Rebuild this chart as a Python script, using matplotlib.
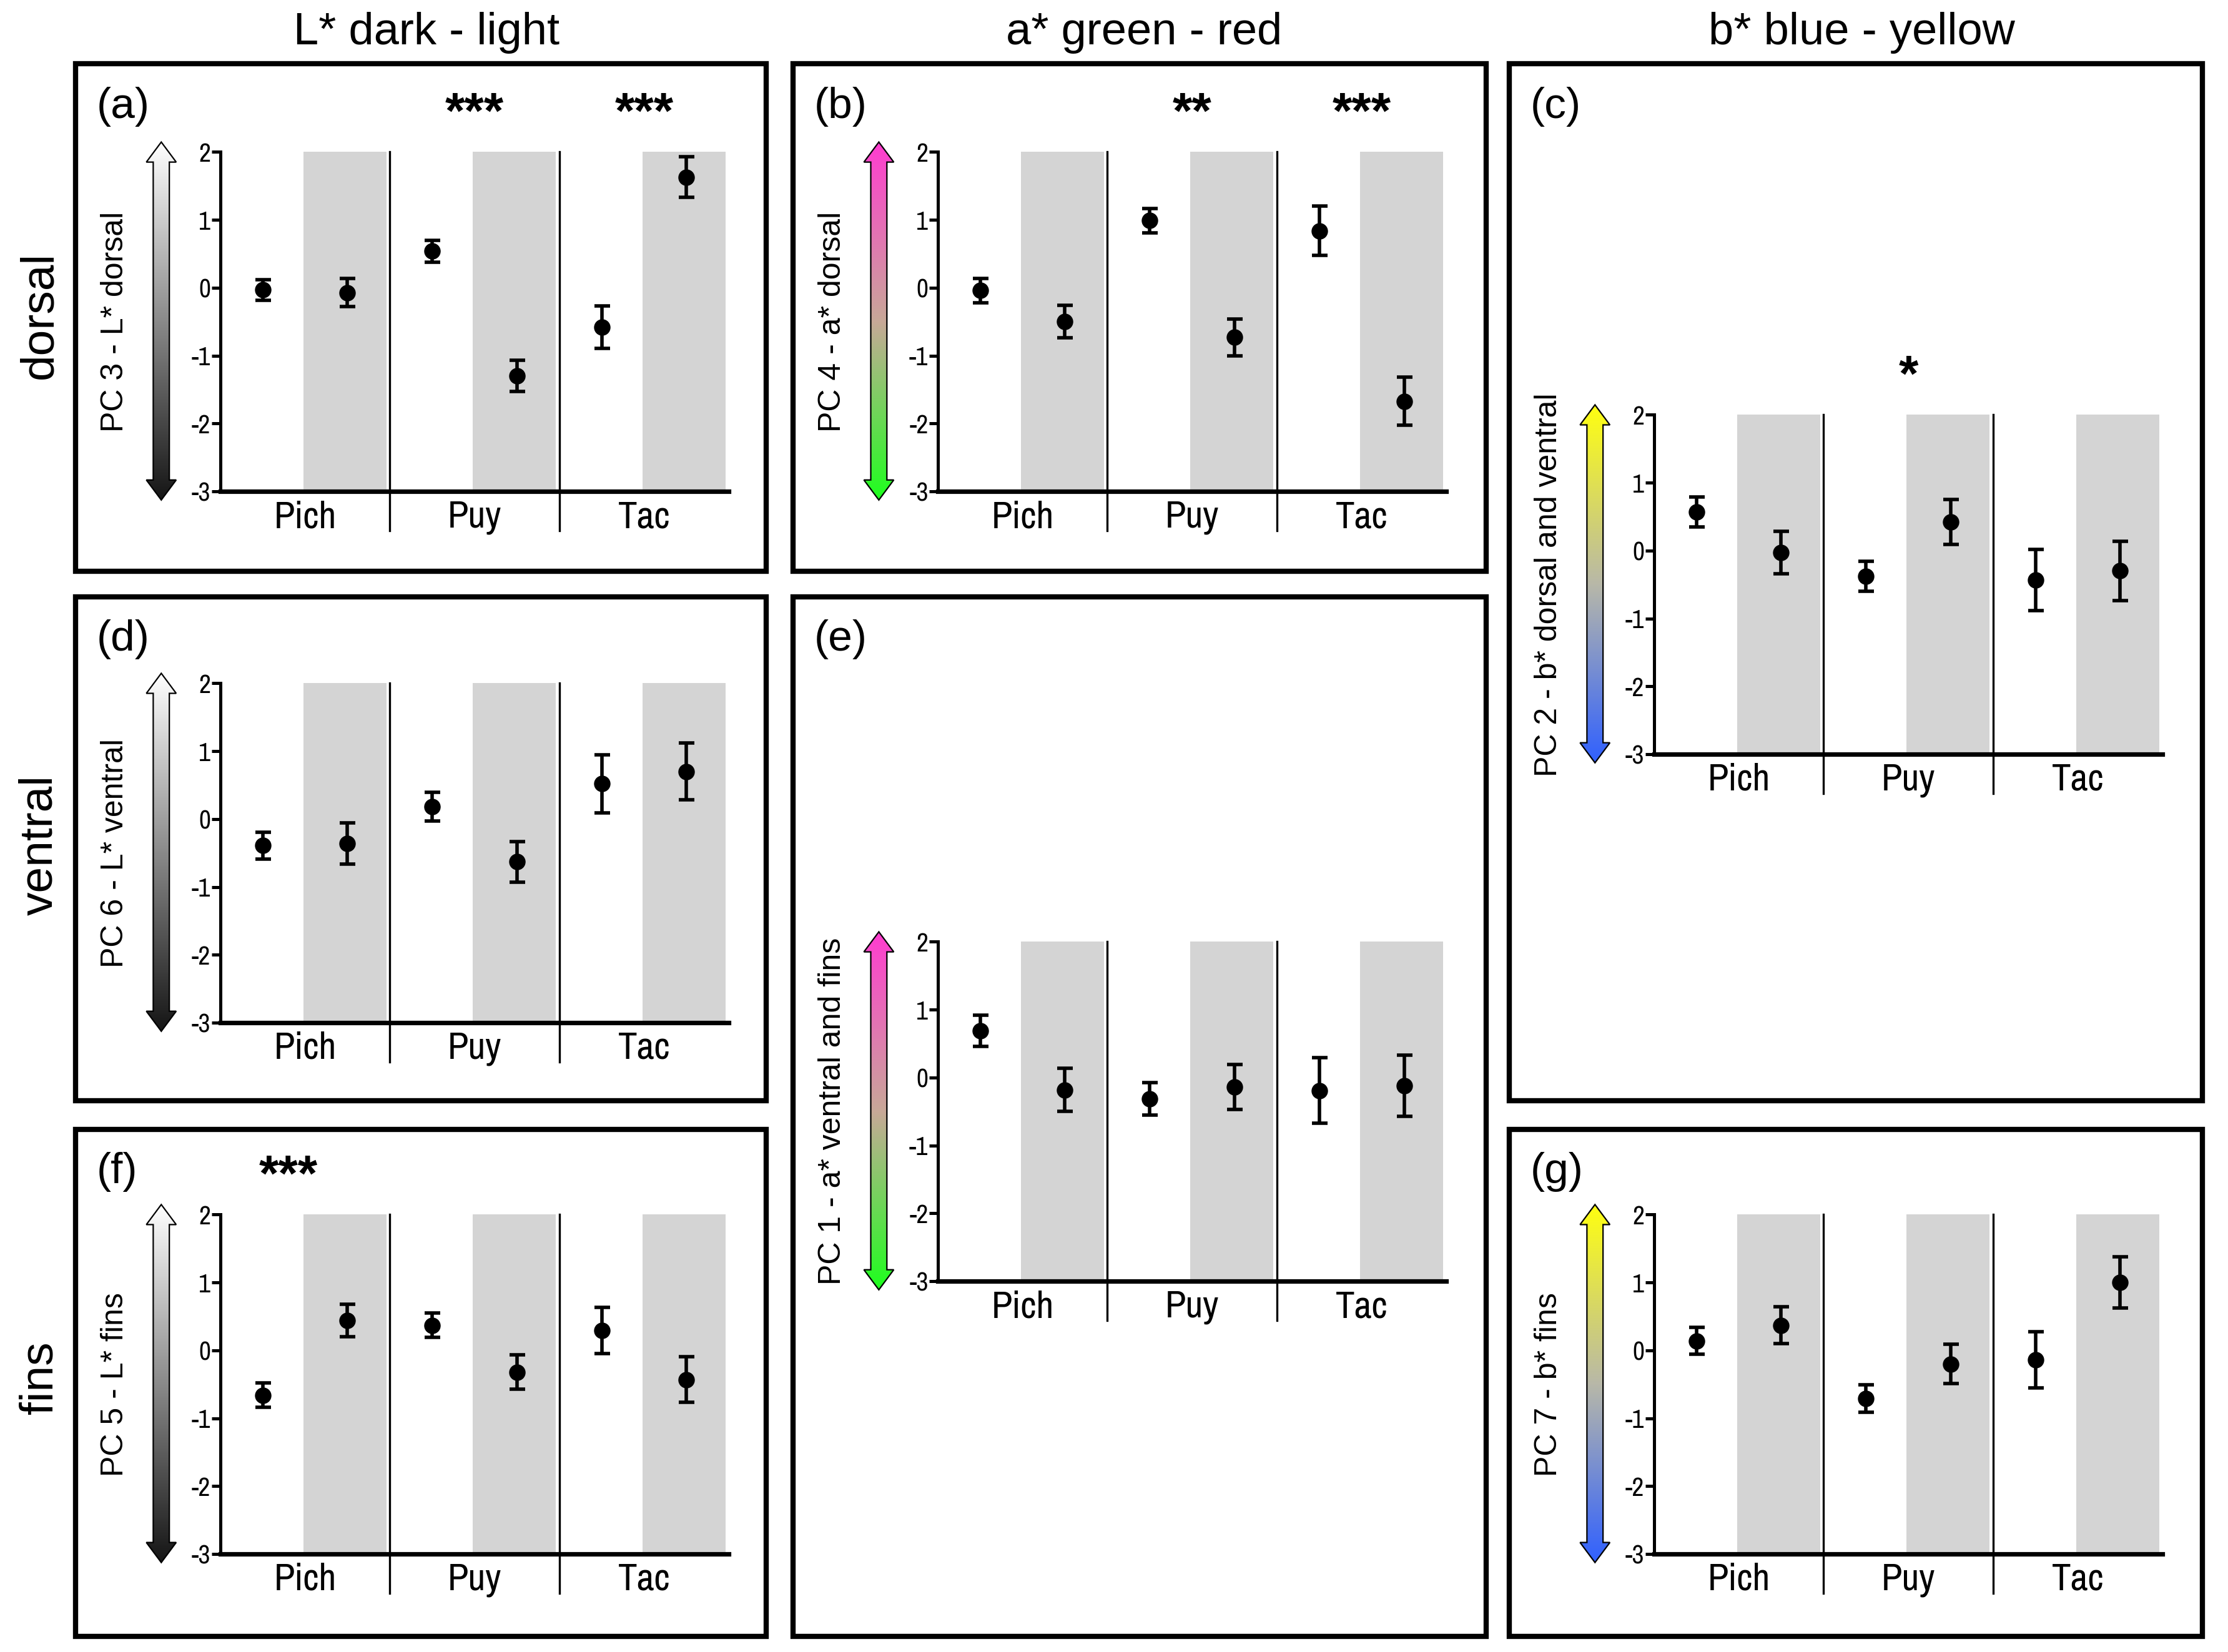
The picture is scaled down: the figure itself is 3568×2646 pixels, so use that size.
import numpy as np
import matplotlib
matplotlib.use('Agg')
import matplotlib.pyplot as plt
from matplotlib import font_manager
from matplotlib.patches import Polygon, Rectangle
from matplotlib.colors import LinearSegmentedColormap

plt.rcParams['font.family'] = ['Liberation Sans', 'DejaVu Sans']
installed = sorted({f.name for f in font_manager.fontManager.ttflist})
narrow_opts = [n for n in installed if 'Narrow' in n or 'Condensed' in n]
NARROW = narrow_opts[:1] + ['Liberation Sans', 'DejaVu Sans']

# ---- data ----
groups = ['Pich', 'Puy', 'Tac']
xpos = [0.25, 0.75, 1.25, 1.75, 2.25, 2.75]   # two treatments per site
yticks = [-3, -2, -1, 0, 1, 2]

a_mean = [-0.03, -0.07, 0.54, -1.30, -0.58, 1.63]
a_err = [0.15, 0.21, 0.16, 0.23, 0.31, 0.30]
b_mean = [-0.04, -0.50, 0.99, -0.73, 0.84, -1.67]
b_err = [0.18, 0.24, 0.18, 0.27, 0.36, 0.35]
c_mean = [0.57, -0.03, -0.38, 0.42, -0.43, -0.30]
c_err = [0.22, 0.31, 0.22, 0.33, 0.45, 0.44]
d_mean = [-0.39, -0.36, 0.18, -0.63, 0.52, 0.70]
d_err = [0.20, 0.30, 0.21, 0.30, 0.43, 0.42]
e_mean = [0.69, -0.18, -0.31, -0.14, -0.19, -0.12]
e_err = [0.23, 0.32, 0.24, 0.33, 0.48, 0.45]
f_mean = [-0.66, 0.44, 0.37, -0.32, 0.29, -0.43]
f_err = [0.18, 0.24, 0.18, 0.25, 0.34, 0.34]
g_mean = [0.14, 0.37, -0.71, -0.20, -0.14, 1.00]
g_err = [0.20, 0.27, 0.20, 0.29, 0.41, 0.38]

ylabels = {
    'a': 'PC 3 - L* dorsal', 'b': 'PC 4 - a* dorsal', 'c': 'PC 2 - b* dorsal and ventral',
    'd': 'PC 6 - L* ventral', 'e': 'PC 1 - a* ventral and fins', 'f': 'PC 5 - L* fins',
    'g': 'PC 7 - b* fins',
}
stars = {'a': [(1.5, '***'), (2.5, '***')], 'b': [(1.5, '**'), (2.5, '***')],
         'c': [(1.5, '*')], 'f': [(0.4, '***')]}

col_titles = ['L* dark - light', 'a* green - red', 'b* blue - yellow']
row_titles = ['dorsal', 'ventral', 'fins']

# arrow colour ramps, bottom -> top
ramp_L = ['#151515', '#ffffff']
ramp_a = ['#1eff1e', '#c8a898', '#ff3cd0']
ramp_b = ['#3060ff', '#b8b8a8', '#ffff10']

# ---- layout, in pixels of a 1568x1163 canvas ----
W, H = 1568, 1163

def fr(x0, y0, w, h):
    return [x0 / W, 1 - (y0 + h) / H, w / W, h / H]

# box left, box top, box width, box height, axes top offset
panels = {
    'a': (53, 45, 486, 357, 62, a_mean, a_err, ramp_L),
    'b': (558, 45, 488, 357, 62, b_mean, b_err, ramp_a),
    'c': (1062, 45, 488, 730, 247, c_mean, c_err, ramp_b),
    'd': (53, 420, 486, 355, 61, d_mean, d_err, ramp_L),
    'e': (558, 420, 488, 732, 243, e_mean, e_err, ramp_a),
    'f': (53, 795, 486, 357, 60, f_mean, f_err, ramp_L),
    'g': (1062, 795, 488, 357, 60, g_mean, g_err, ramp_b),
}
AX_W, AX_H = 358, 239

fig = plt.figure(figsize=(17.84, 13.23), dpi=200)


def draw_arrow(rect, colors):
    ax = fig.add_axes(rect)
    ax.set_xlim(0, 1)
    ax.set_ylim(0, 1)
    ax.axis('off')
    sw, hl = 0.27, 0.056
    pts = [(0.5, 1), (1, 1 - hl), (0.5 + sw, 1 - hl), (0.5 + sw, hl), (1, hl),
           (0.5, 0), (0, hl), (0.5 - sw, hl), (0.5 - sw, 1 - hl), (0, 1 - hl)]
    poly = Polygon(pts, closed=True, fc='none', ec='black', lw=0.8, clip_on=False, zorder=3)
    ax.add_patch(poly)
    cmap = LinearSegmentedColormap.from_list('ramp', colors)
    grad = np.linspace(0, 1, 256).reshape(-1, 1)
    im = ax.imshow(grad, extent=[0, 1, 0, 1], aspect='auto', cmap=cmap,
                   origin='lower', interpolation='bilinear')
    im.set_clip_path(poly)


for key, (bx, by, bw, bh, top, mean, err, ramp) in panels.items():
    # outer frame
    fig.add_artist(Rectangle((bx / W, 1 - (by + bh) / H), bw / W, bh / H,
                             transform=fig.transFigure, fill=False, lw=3, ec='black'))
    ax_left = bx + 102
    ax_top = by + top
    ax = fig.add_axes(fr(ax_left, ax_top, AX_W, AX_H))
    ax.set_xlim(0, 3)
    ax.set_ylim(-3, 2)

    for i in range(len(groups)):
        ax.axvspan(i + 0.49, i + 0.98, color='#d4d4d4', lw=0, zorder=0)
    for i in range(1, len(groups)):
        ax.axvline(i, ymin=-0.115, ymax=1, color='black', lw=1.2, clip_on=False, zorder=2)

    ax.errorbar(xpos, mean, yerr=err, fmt='o', color='black', ms=8.5,
                elinewidth=2, capsize=4.5, capthick=2, zorder=4)

    for sp in ['top', 'right']:
        ax.spines[sp].set_visible(False)
    ax.spines['left'].set_linewidth(1.8)
    ax.spines['bottom'].set_linewidth(2.6)
    ax.set_yticks(yticks)
    ax.set_yticklabels([str(t) for t in yticks], family=NARROW, fontweight='bold', fontsize=15)
    ax.tick_params(axis='y', length=5, width=1.8, pad=0.5)
    ax.set_xticks([i + 0.5 for i in range(len(groups))])
    ax.set_xticklabels(groups, family=NARROW, fontsize=22)
    ax.tick_params(axis='x', length=0, pad=5)

    for sx, s in stars.get(key, []):
        ax.text(sx, 2.55, s, ha='center', va='center', fontsize=29,
                fontweight='bold', clip_on=False)

    # panel letter and y label
    fig.text((bx + 15) / W, 1 - (by + 30) / H, '(%s)' % key, fontsize=25,
             ha='left', va='center')
    fig.text((bx + 28) / W, 1 - (ax_top + AX_H / 2) / H, ylabels[key], fontsize=18,
             rotation=90, ha='center', va='center')

    # colour arrow alongside the y axis
    draw_arrow(fr(bx + 50, ax_top - 7, 21, AX_H + 13), ramp)

for cx, t in zip([300, 805, 1310], col_titles):
    fig.text(cx / W, 1 - 23 / H, t, fontsize=26, ha='center', va='center')
for cy, t in zip([222, 595, 970], row_titles):
    fig.text(28 / W, 1 - cy / H, t, fontsize=27, rotation=90, ha='center', va='center')

fig.savefig('out.png', dpi=200, facecolor='white')
